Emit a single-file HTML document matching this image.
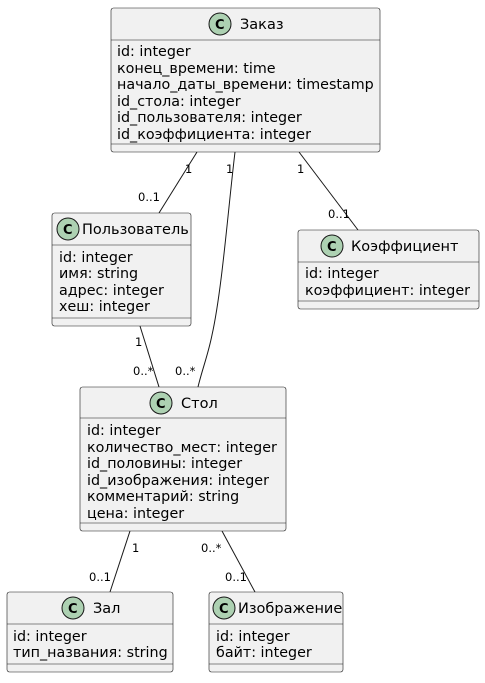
<!DOCTYPE html>
<html><head><meta charset="utf-8"><style>
html,body{margin:0;padding:0;background:#fff}
svg text{font-family:"DejaVu Sans","Liberation Sans",sans-serif;fill:#000}
.a{font-size:14.3px}.h{font-size:14.5px}.l{font-size:11.5px}
.box{fill:#F1F1F1;stroke:#181818;stroke-width:0.6}
.sep{stroke:#181818;stroke-width:0.6}
.ln{stroke:#181818;stroke-width:1;fill:none}
.ci{fill:#ADD1B2;stroke:#181818;stroke-width:1}
.cc{font-size:13px;font-weight:bold}
</style></head><body>
<svg width="485" height="678" viewBox="0 0 485 678" xmlns="http://www.w3.org/2000/svg">
<path class="ln" d="M197,152 L159,213"/>
<path class="ln" d="M235,152 C228,210 222,290 212,335 C208,355 202,370 198,387"/>
<path class="ln" d="M299,152 L358,230"/>
<path class="ln" d="M140,326 L159,387"/>
<path class="ln" d="M130,531 L110,592"/>
<path class="ln" d="M222,531 L255,592"/>
<text class="l" x="185" y="173">1</text>
<text class="l" x="138" y="201">0..1</text>
<text class="l" x="226" y="173">1</text>
<text class="l" x="297" y="173">1</text>
<text class="l" x="328" y="218">0..1</text>
<text class="l" x="135" y="346">1</text>
<text class="l" x="133" y="375">0..*</text>
<text class="l" x="175" y="375">0..*</text>
<text class="l" x="132" y="552">1</text>
<text class="l" x="89" y="581">0..1</text>
<text class="l" x="201" y="552">0..*</text>
<text class="l" x="225" y="581">0..1</text>

<rect class="box" x="111" y="8" width="269" height="144" rx="2.5"/>
<line class="sep" x1="111" y1="40" x2="380" y2="40"/>
<line class="sep" x1="111" y1="144" x2="380" y2="144"/>
<circle class="ci" cx="220" cy="24" r="11"/><text class="cc" x="215" y="29">C</text>
<text class="h" x="240" y="29">Заказ</text>
<text class="a" x="117" y="56">id: integer</text>
<text class="a" x="117" y="73">конец_времени: time</text>
<text class="a" x="117" y="89">начало_даты_времени: timestamp</text>
<text class="a" x="117" y="106">id_стола: integer</text>
<text class="a" x="117" y="122">id_пользователя: integer</text>
<text class="a" x="117" y="139">id_коэффициента: integer</text>

<rect class="box" x="52" y="213" width="139" height="113" rx="2.5"/>
<line class="sep" x1="52" y1="245" x2="191" y2="245"/>
<line class="sep" x1="52" y1="318" x2="191" y2="318"/>
<circle class="ci" cx="68" cy="229" r="11"/><text class="cc" x="63" y="234">C</text>
<text class="h" x="82" y="234">Пользователь</text>
<text class="a" x="59" y="262">id: integer</text>
<text class="a" x="59" y="278">имя: string</text>
<text class="a" x="59" y="295">адрес: integer</text>
<text class="a" x="59" y="311">хеш: integer</text>

<rect class="box" x="298" y="230" width="181" height="79" rx="2.5"/>
<line class="sep" x1="298" y1="262" x2="479" y2="262"/>
<line class="sep" x1="298" y1="301" x2="479" y2="301"/>
<circle class="ci" cx="332" cy="246" r="11"/><text class="cc" x="327" y="251">C</text>
<text class="h" x="351" y="251">Коэффициент</text>
<text class="a" x="305" y="278">id: integer</text>
<text class="a" x="305" y="295">коэффициент: integer</text>

<rect class="box" x="80" y="387" width="206" height="144" rx="2.5"/>
<line class="sep" x1="80" y1="418" x2="286" y2="418"/>
<line class="sep" x1="80" y1="523" x2="286" y2="523"/>
<circle class="ci" cx="161" cy="403" r="11"/><text class="cc" x="156" y="408">C</text>
<text class="h" x="181" y="408">Стол</text>
<text class="a" x="87" y="435">id: integer</text>
<text class="a" x="87" y="452">количество_мест: integer</text>
<text class="a" x="87" y="468">id_половины: integer</text>
<text class="a" x="87" y="485">id_изображения: integer</text>
<text class="a" x="87" y="501">комментарий: string</text>
<text class="a" x="87" y="518">цена: integer</text>

<rect class="box" x="7" y="592" width="166" height="80" rx="2.5"/>
<line class="sep" x1="7" y1="624" x2="173" y2="624"/>
<line class="sep" x1="7" y1="664" x2="173" y2="664"/>
<circle class="ci" cx="73" cy="608" r="11"/><text class="cc" x="68" y="613">C</text>
<text class="h" x="93" y="613">Зал</text>
<text class="a" x="13" y="641">id: integer</text>
<text class="a" x="13" y="657">тип_названия: string</text>

<rect class="box" x="209" y="592" width="134" height="80" rx="2.5"/>
<line class="sep" x1="209" y1="624" x2="343" y2="624"/>
<line class="sep" x1="209" y1="664" x2="343" y2="664"/>
<circle class="ci" cx="224" cy="608" r="11"/><text class="cc" x="219" y="613">C</text>
<text class="h" x="238" y="613">Изображение</text>
<text class="a" x="216" y="641">id: integer</text>
<text class="a" x="216" y="657">байт: integer</text>
</svg>
</body></html>
